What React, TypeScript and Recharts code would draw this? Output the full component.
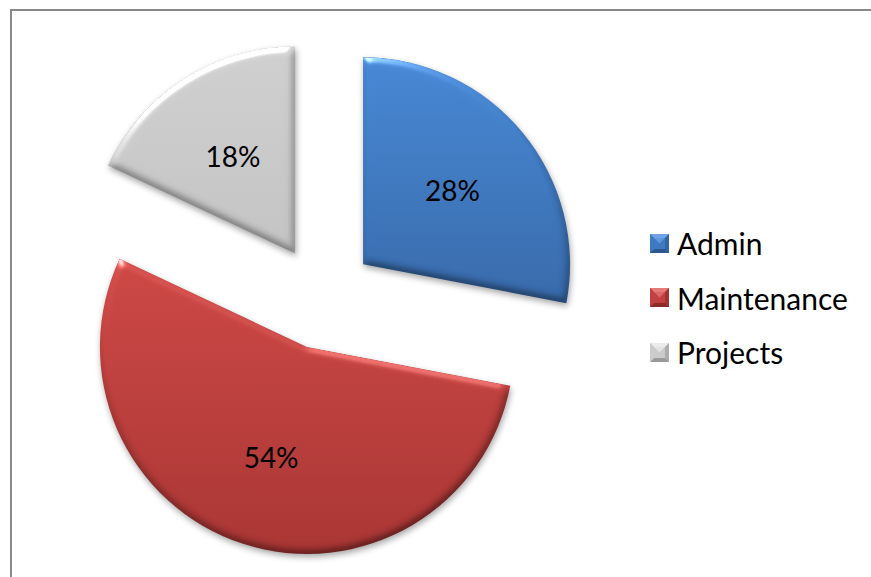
import React from 'react';
import { PieChart, Pie, Cell, Legend } from 'recharts';

const categories = ['Admin', 'Maintenance', 'Projects'];
const shares = [28, 54, 18];

const data = categories.map((name, i) => ({ name, value: shares[i] }));

const COLORS: Record<string, { top: string; bottom: string; base: string; light: string; dark: string }> = {
  Admin: { top: '#4788d5', bottom: '#386aab', base: '#3f79c0', light: '#6fa3e6', dark: '#2c5690' },
  Maintenance: { top: '#cd4845', bottom: '#aa3634', base: '#c0413f', light: '#e57a77', dark: '#8c2a28' },
  Projects: { top: '#d0d0d0', bottom: '#c4c4c4', base: '#cbcbcb', light: '#ececec', dark: '#9a9a9a' },
};

const W = 871;
const H = 577;
const CX = 323;
const CY = 297.5;
const R = 207;
const EXPLODE = 52;
const FONT = 'Lato, "Liberation Sans", sans-serif';
const RAD = Math.PI / 180;

const total = shares.reduce((a, b) => a + b, 0);
const midAngles: number[] = [];
{
  let cum = 0;
  shares.forEach((v) => {
    midAngles.push(90 - (360 * (cum + v / 2)) / total);
    cum += v;
  });
}

const renderLabel = (props: any) => {
  const { cx, cy, midAngle, outerRadius, percent } = props;
  const ox = cx + EXPLODE * Math.cos(midAngle * RAD);
  const oy = cy - EXPLODE * Math.sin(midAngle * RAD);
  const lr = outerRadius * 0.56;
  const x = ox + lr * Math.cos(midAngle * RAD);
  const y = oy - lr * Math.sin(midAngle * RAD);
  return (
    <text x={x} y={y} textAnchor="middle" dominantBaseline="central" fill="#000" fontFamily={FONT} fontSize={28}>
      {`${Math.round(percent * 100)}%`}
    </text>
  );
};

const Marker = ({ name }: { name: string }) => {
  const c = COLORS[name];
  return (
    <svg width={19} height={19} style={{ display: 'block' }}>
      <rect x={0} y={0} width={19} height={19} fill={c.base} />
      <polygon points="0,0 19,0 15,4 4,4" fill={c.light} />
      <polygon points="0,19 19,19 15,15 4,15" fill={c.dark} />
      <polygon points="0,0 4,4 4,15 0,19" fill={c.base} opacity={0.9} />
      <polygon points="19,0 15,4 15,15 19,19" fill={c.dark} opacity={0.6} />
      <polygon points="4,4 15,4 9.5,9.5" fill={c.light} opacity={0.7} />
    </svg>
  );
};

const renderLegend = (props: any) => {
  const { payload } = props;
  return (
    <div style={{ fontFamily: FONT, fontSize: 30, color: '#000' }}>
      {(payload || []).map((p: any) => (
        <div key={p.value} style={{ display: 'flex', alignItems: 'center', height: 54.5 }}>
          <Marker name={p.value} />
          <span style={{ marginLeft: 8, lineHeight: '54.5px' }}>{p.value}</span>
        </div>
      ))}
    </div>
  );
};

export default function App() {
  return (
    <div style={{ position: 'absolute', left: 0, top: 0, width: W, height: H, overflow: 'hidden', background: '#fff' }}>
      <div
        style={{
          position: 'absolute',
          left: 10,
          top: 9,
          width: 950,
          height: 700,
          border: '2px solid #898989',
          boxSizing: 'border-box',
        }}
      />
      <div style={{ position: 'absolute', left: 0, top: 0 }}>
        <PieChart width={W} height={H} margin={{ top: 0, right: 0, bottom: 0, left: 0 }}>
          <defs>
            {categories.map((name) => (
              <linearGradient key={name} id={`grad-${name}`} x1="0" y1="0" x2="0" y2="1">
                <stop offset="0%" stopColor={COLORS[name].top} />
                <stop offset="100%" stopColor={COLORS[name].bottom} />
              </linearGradient>
            ))}
            <filter id="bevel" x="-15%" y="-15%" width="130%" height="130%" colorInterpolationFilters="sRGB">
              <feGaussianBlur in="SourceAlpha" stdDeviation="4" result="blur" />
              <feDiffuseLighting in="blur" surfaceScale="3" diffuseConstant="1.12" lightingColor="#ffffff" result="diff">
                <feDistantLight azimuth="250" elevation="63" />
              </feDiffuseLighting>
              <feComposite in="SourceGraphic" in2="diff" operator="arithmetic" k1="1" k2="0" k3="0" k4="0" result="shaded" />
              <feSpecularLighting in="blur" surfaceScale="3" specularConstant="0.7" specularExponent="40" lightingColor="#ffffff" result="spec">
                <feDistantLight azimuth="250" elevation="30" />
              </feSpecularLighting>
              <feComposite in="spec" in2="SourceAlpha" operator="in" result="specIn" />
              <feComposite in="shaded" in2="specIn" operator="arithmetic" k1="0" k2="1" k3="1" k4="0" result="lit" />
              <feGaussianBlur in="SourceAlpha" stdDeviation="3" result="sblur" />
              <feOffset in="sblur" dx="1" dy="3" result="soff" />
              <feFlood floodColor="#000" floodOpacity="0.35" result="sc" />
              <feComposite in="sc" in2="soff" operator="in" result="shadow" />
              <feMerge>
                <feMergeNode in="shadow" />
                <feMergeNode in="lit" />
              </feMerge>
            </filter>
          </defs>
          <Pie
            data={data}
            dataKey="value"
            nameKey="name"
            cx={CX}
            cy={CY}
            outerRadius={R}
            startAngle={90}
            endAngle={-270}
            stroke="none"
            labelLine={false}
            label={renderLabel}
            isAnimationActive={false}
          >
            {data.map((d, i) => {
              const dx = EXPLODE * Math.cos(midAngles[i] * RAD);
              const dy = -EXPLODE * Math.sin(midAngles[i] * RAD);
              return (
                <Cell
                  key={d.name}
                  fill={`url(#grad-${d.name})`}
                  filter="url(#bevel)"
                  style={{ transform: `translate(${dx}px, ${dy}px)` }}
                />
              );
            })}
          </Pie>
          <Legend
            layout="vertical"
            align="right"
            verticalAlign="middle"
            content={renderLegend}
            wrapperStyle={{ left: 650, top: 216, right: 'auto', bottom: 'auto', width: 'auto' }}
          />
        </PieChart>
      </div>
    </div>
  );
}
